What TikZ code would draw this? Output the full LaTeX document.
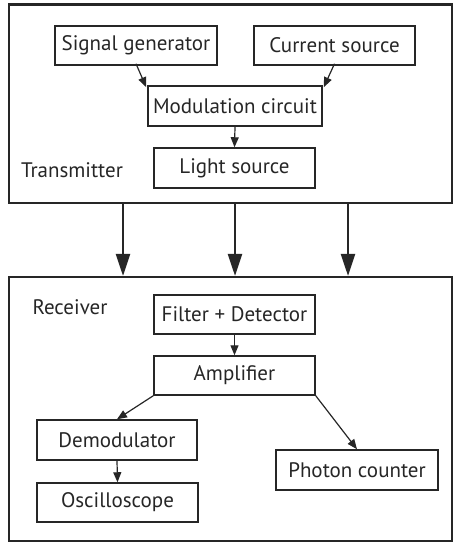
\documentclass[tikz,border=0pt]{standalone}
\usepackage{fontspec}
\setmainfont{PT Sans}
\usetikzlibrary{arrows.meta}
\begin{document}
\begin{tikzpicture}[x=1pt,y=-1pt,
  blk/.style={draw=black!85, line width=1.5pt, minimum width=161pt, minimum height=39pt, inner sep=0pt, font=\fontsize{21}{25}\selectfont, text=black!85},
  outer/.style={draw=black!85, line width=2.2pt},
  lbl/.style={font=\fontsize{21}{25}\selectfont, text=black!85, inner sep=0pt},
  sarr/.style={draw=black!85, line width=1.2pt, -{Triangle[length=10pt,width=8pt]}},
  barr/.style={draw=black!85, line width=2.2pt, -{Triangle[length=22pt,width=14pt]}}]
\useasboundingbox (0,0) rectangle (454,546);
% outer boxes
\node[outer, minimum width=443pt, minimum height=198.5pt, inner sep=0pt] (tx) at (230.5,103.75) {};
\node[outer, minimum width=443pt, minimum height=264pt, inner sep=0pt] (rx) at (230.5,409) {};
\node[lbl] (txl) at (72,170) {Transmitter};
\node[lbl] (rxl) at (70,307) {Receiver};
% transmitter blocks
\node[blk, minimum width=162pt] (sg) at (136,45.5) {Signal generator};
\node[blk] (cs) at (334.5,45.5) {Current source};
\node[blk, minimum width=174pt, minimum height=40pt] (mc) at (235,106) {Modulation circuit};
\node[blk, minimum height=40pt] (ls) at (234.5,168) {Light source};
% receiver blocks
\node[blk] (fd) at (234.5,314.5) {Filter + Detector};
\node[blk] (am) at (234.5,375.5) {Amplifier};
\node[blk, minimum width=160pt, minimum height=40pt] (dm) at (117,440) {Demodulator};
\node[blk] (os) at (117.5,502.5) {Oscilloscope};
\node[blk, minimum width=162pt, minimum height=40pt] (pc) at (357,470) {Photon counter};
% small arrows
\draw[sarr] ([yshift=2pt]sg.south) -- ([xshift=-1pt,yshift=-2pt]mc.north west);
\draw[sarr] ([yshift=2pt]cs.south) -- ([xshift=1pt,yshift=-2pt]mc.north east);
\draw[sarr] (mc.south) -- (ls.north);
\draw[sarr] (fd.south) -- (am.north);
\draw[sarr] (am.south west) -- (dm.north);
\draw[sarr] (am.south east) -- (pc.north);
\draw[sarr] (dm.south) -- (os.north);
% big arrows
\draw[barr] (tx.south -| 123,0) -- (rx.north -| 123,0);
\draw[barr] (tx.south -| 235,0) -- (rx.north -| 235,0);
\draw[barr] (tx.south -| 348,0) -- (rx.north -| 348,0);
\end{tikzpicture}
\end{document}
